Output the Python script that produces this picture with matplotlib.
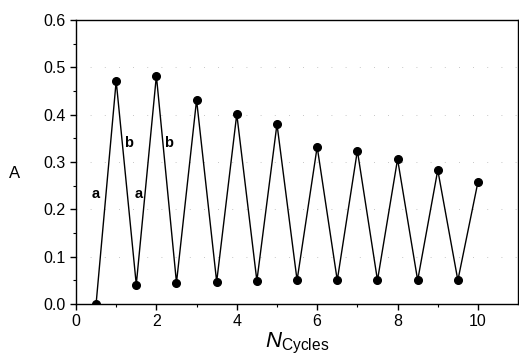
# absorbansi A terhadap jumlah siklus (zig-zag)
import numpy as np
import matplotlib.pyplot as plt

plt.rcParams['font.family'] = ['Liberation Sans', 'DejaVu Sans']
plt.rcParams['mathtext.fontset'] = 'custom'
plt.rcParams['mathtext.rm'] = 'Liberation Sans'
plt.rcParams['mathtext.it'] = 'Liberation Sans:italic'

# data dari grafik
siklus = [0.5, 1, 1.5, 2, 2.5, 3, 3.5, 4, 4.5, 5,
          5.5, 6, 6.5, 7, 7.5, 8, 8.5, 9, 9.5, 10]
nilai_A = [0.0, 0.471, 0.041, 0.482, 0.045, 0.431, 0.047, 0.401, 0.049, 0.38,
           0.05, 0.332, 0.05, 0.324, 0.05, 0.306, 0.05, 0.283, 0.05, 0.258]

# label huruf a / b
label_teks = ['a', 'a', 'b', 'b']
label_x = [0.5, 1.55, 1.32, 2.31]
label_y = [0.232, 0.232, 0.34, 0.34]

fig = plt.figure(figsize=(5.19, 3.6), dpi=100)
ax = fig.add_axes([0.1464, 0.1556, 0.852, 0.789])

ax.plot(siklus, nilai_A, color='black', lw=1.0, marker='o', ms=5.5,
        mfc='black', mec='black')

for t, x, y in zip(label_teks, label_x, label_y):
    ax.text(x, y, t, fontsize=10.5, fontweight='bold', ha='center', va='center')

ax.set_xlim(0, 11)
ax.set_ylim(0, 0.6)
ax.set_xticks([0, 2, 4, 6, 8, 10])
ax.set_xticks(np.arange(1, 11, 2), minor=True)
ax.set_yticks(np.arange(0, 0.61, 0.1))
ax.set_yticks(np.arange(0.05, 0.6, 0.1), minor=True)
ax.yaxis.set_major_formatter(plt.FormatStrFormatter('%.1f'))

# garis bantu samar (putus-putus jarang)
for yv in [0.1, 0.2, 0.3, 0.4, 0.5]:
    ax.axhline(yv, color='0.7', lw=0.6, ls=(0, (1, 16)), zorder=0)

ax.tick_params(axis='both', which='major', direction='out', length=4,
               width=1, labelsize=11.5, top=False, right=False)
ax.tick_params(axis='both', which='minor', direction='out', length=2.5,
               width=0.8, top=False, right=False)
for s in ax.spines.values():
    s.set_linewidth(1.0)

ax.set_xlabel(r'$\mathit{N}_{\mathrm{Cycles}}$', fontsize=16, labelpad=1)
ax.set_ylabel('A', fontsize=12, rotation=0, va='center', ha='center')
ax.yaxis.set_label_coords(-0.138, 0.46)

plt.savefig('out.png', dpi=100)
